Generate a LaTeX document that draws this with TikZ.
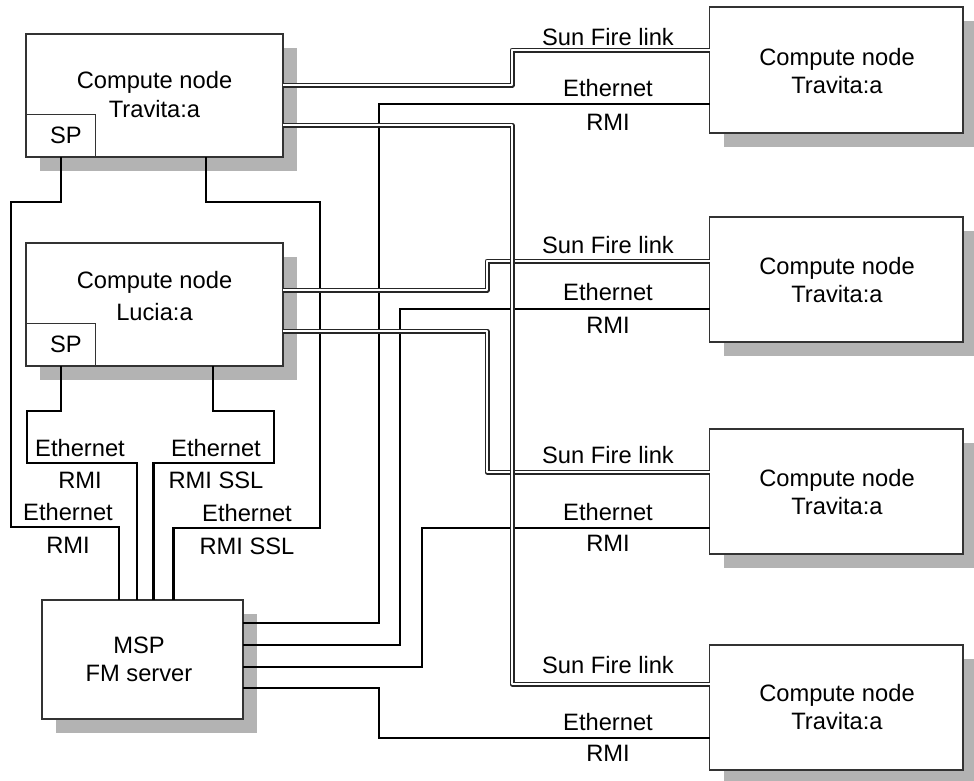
\documentclass[tikz,border=0pt]{standalone}
\usepackage{fontspec}
\setmainfont{Liberation Sans}
\usetikzlibrary{shadows}
\definecolor{shadowgray}{HTML}{B3B3B3}
\definecolor{edgegray}{HTML}{333333}
\begin{document}
\begin{tikzpicture}[x=1pt,y=-1pt,
  cbox/.style={draw=edgegray, line width=1.1pt, fill=white, inner sep=0pt, outer sep=0pt,
    drop shadow={shadow xshift=14pt, shadow yshift=-14pt, fill=shadowgray, opacity=1}},
  spbox/.style={draw=edgegray, line width=1.1pt, fill=white, inner sep=0pt, outer sep=0pt,
    minimum width=69.7pt, minimum height=42.5pt, anchor=south west, font=\fontsize{23.7}{28.5}\selectfont},
  btext/.style={align=center, inner sep=0pt, font=\fontsize{23.7}{28.5}\selectfont},
  lbl/.style={inner sep=0pt, font=\fontsize{23.7}{28.5}\selectfont},
  eth/.style={draw=black, line width=2.9pt, line join=miter},
  sfl/.style={draw=black!85, double=white, line width=1.2pt, double distance=2.6pt, line join=round}
]
\useasboundingbox (0,0) rectangle (974,780);

% boxes
\node[cbox, minimum width=257pt, minimum height=123pt] (box1) at (154.5,95.5) {};
\node[cbox, minimum width=257pt, minimum height=123pt] (box2) at (154.5,304.5) {};
\node[cbox, minimum width=201pt, minimum height=119pt] (msp) at (142.5,659.5) {};
\node[cbox, minimum width=253.5pt, minimum height=126pt] (r1) at (836.25,70) {};
\node[cbox, minimum width=253.5pt, minimum height=125pt] (r2) at (836.25,279.5) {};
\node[cbox, minimum width=253.5pt, minimum height=125pt] (r3) at (836.25,491.5) {};
\node[cbox, minimum width=253.5pt, minimum height=125pt] (r4) at (836.25,707.5) {};

\node[spbox] (sp1) at (box1.south west) {\hspace*{10pt}SP};
\node[spbox] (sp2) at (box2.south west) {\hspace*{10pt}SP};

% box texts
\node[btext] (t1) at (154.5,94.3) {Compute node\\Travita:a};
\node[btext] (t2) at (154.5,296) {Compute node\\[3.2pt]Lucia:a};
\node[btext] (tm) at (139,659.5) {MSP\\FM server};
\node[btext] (tr1) at (837,71) {Compute node\\Travita:a};
\node[btext] (tr2) at (837,280) {Compute node\\Travita:a};
\node[btext] (tr3) at (837,492) {Compute node\\Travita:a};
\node[btext] (tr4) at (837,707) {Compute node\\Travita:a};

% Ethernet connectors (thick)
\draw[eth] (box1.south -| 61,0) -- (61,202) -- (11,202) -- (11,527) -- (119,527) -- (msp.north -| 119,0);
\draw[eth] (box1.south -| 206,0) -- (206,202) -- (320,202) -- (320,528) -- (173.5,528) -- (msp.north -| 173.5,0);
\draw[eth] (box2.south -| 61,0) -- (61,411) -- (27,411) -- (27,463) -- (137,463) -- (msp.north -| 137,0);
\draw[eth] (box2.south -| 213,0) -- (213,411) -- (274,411) -- (274,463) -- (153.5,463) -- (msp.north -| 153.5,0);
\draw[eth] (msp.east |- 0,623) -- (379,623) -- (379,104) -- (r1.west |- 0,104);
\draw[eth] (msp.east |- 0,645) -- (400,645) -- (400,309) -- (r2.west |- 0,309);
\draw[eth] (msp.east |- 0,667) -- (422,667) -- (422,528) -- (r3.west |- 0,528);
\draw[eth] (msp.east |- 0,688) -- (379,688) -- (379,738) -- (r4.west |- 0,738);

% Sun Fire links (double)
\draw[sfl] (box1.east |- 0,85) -- (512,85) -- (512,50) -- (r1.west |- 0,50);
\draw[sfl] (box2.east |- 0,290) -- (487,290) -- (487,261) -- (r2.west |- 0,261);
\draw[sfl] (box2.east |- 0,331) -- (487,331) -- (487,472) -- (r3.west |- 0,472);
\draw[sfl] (box1.east |- 0,125) -- (512,125) -- (512,684) -- (r4.west |- 0,684);

% labels right
\node[lbl] (s1) at (608,37) {Sun Fire link};
\node[lbl] (e1) at (608,88) {Ethernet};
\node[lbl] (m1) at (608,122) {RMI};
\node[lbl] (s2) at (608,245) {Sun Fire link};
\node[lbl] (e2) at (608,292) {Ethernet};
\node[lbl] (m2) at (608,325) {RMI};
\node[lbl] (s3) at (608,455) {Sun Fire link};
\node[lbl] (e3) at (608,512) {Ethernet};
\node[lbl] (m3) at (608,543) {RMI};
\node[lbl] (s4) at (608,665) {Sun Fire link};
\node[lbl] (e4) at (608,722) {Ethernet};
\node[lbl] (m4) at (608,753) {RMI};

% labels left
\node[lbl] (le1) at (80,448) {Ethernet};
\node[lbl] (lm1) at (80,480) {RMI};
\node[lbl] (le2) at (216,448) {Ethernet};
\node[lbl] (lm2) at (216,480) {RMI SSL};
\node[lbl] (le3) at (68,512) {Ethernet};
\node[lbl] (lm3) at (68,545) {RMI};
\node[lbl] (le4) at (247,513) {Ethernet};
\node[lbl] (lm4) at (247,546) {RMI SSL};
\end{tikzpicture}
\end{document}
